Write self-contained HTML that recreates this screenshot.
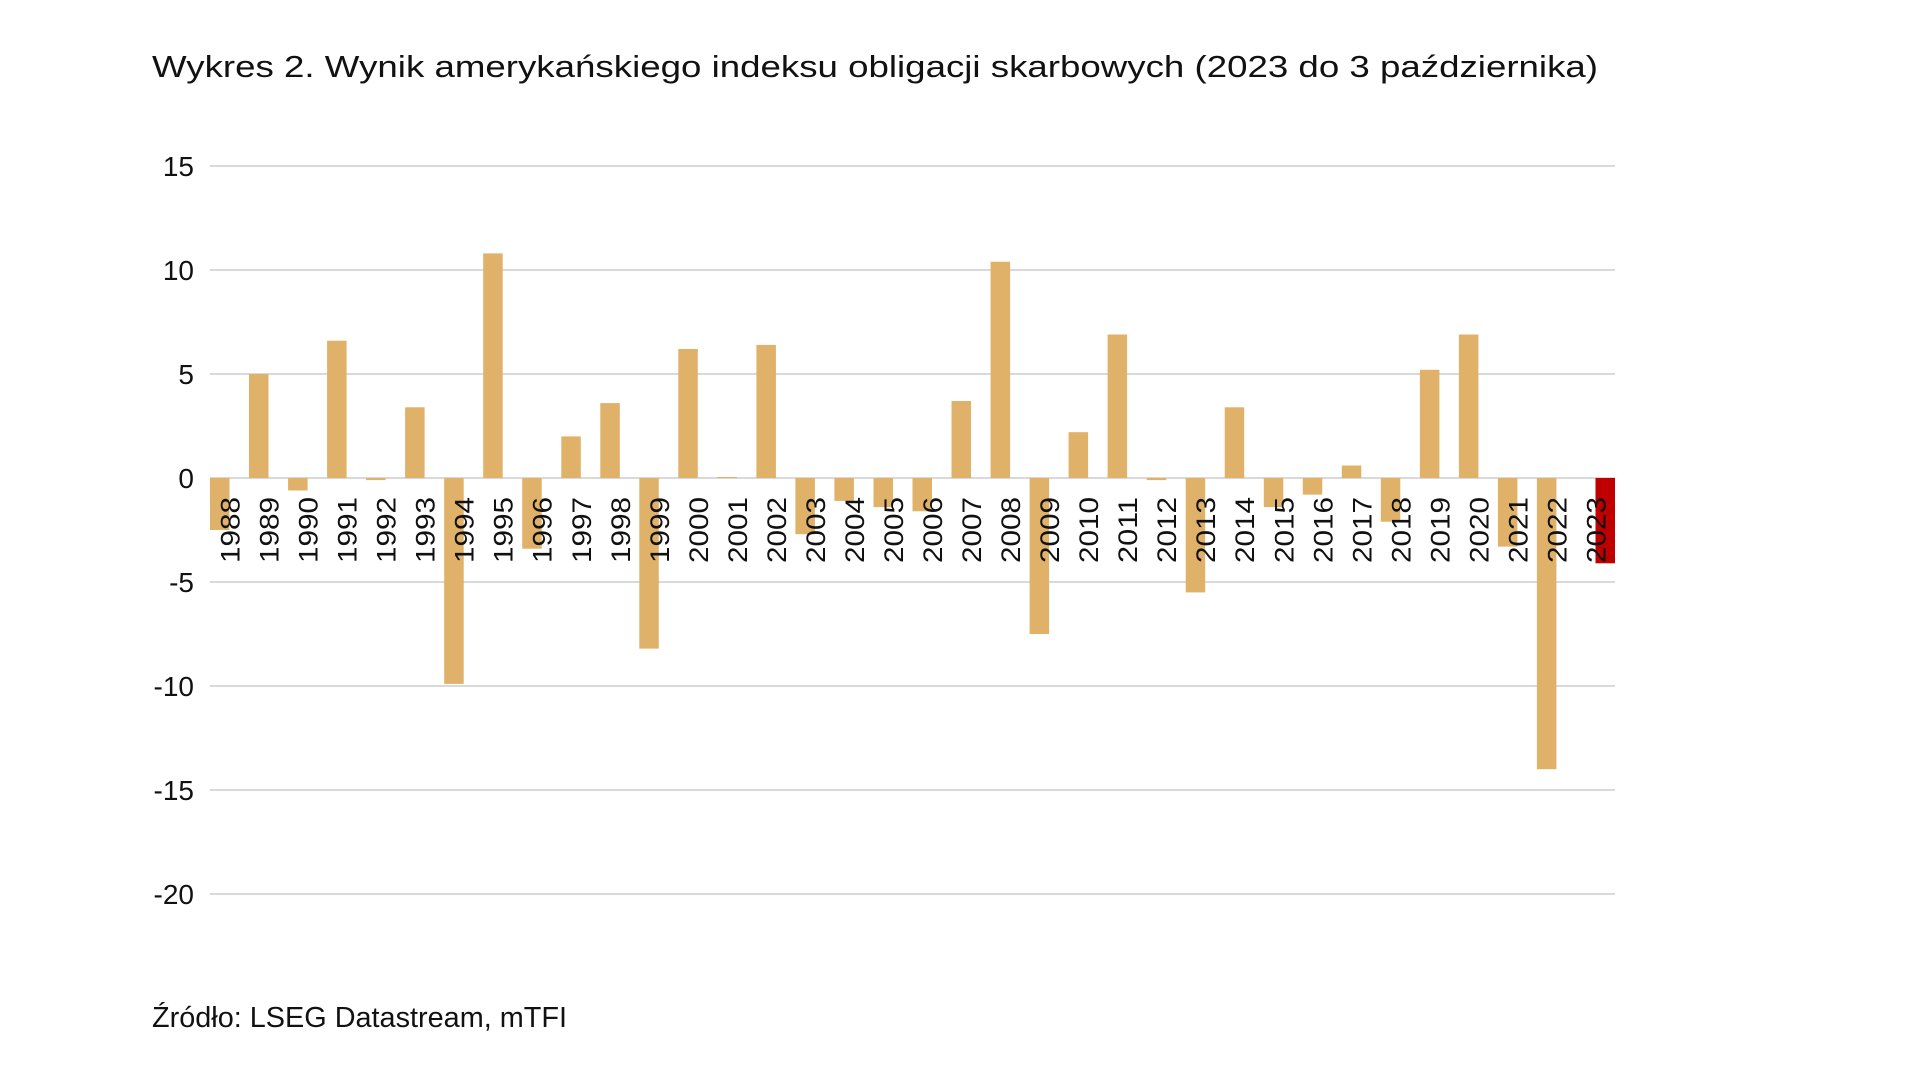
<!DOCTYPE html>
<html><head><meta charset="utf-8"><style>
html,body{margin:0;padding:0;background:#fff;}
svg{display:block;}
text{font-family:"Liberation Sans",sans-serif;fill:#111;}
</style></head><body>
<svg width="1920" height="1080" viewBox="0 0 1920 1080" xmlns="http://www.w3.org/2000/svg">
<text x="152" y="77" font-size="31" textLength="1446" lengthAdjust="spacingAndGlyphs">Wykres 2. Wynik amerykańskiego indeksu obligacji skarbowych (2023 do 3 października)</text>
<text x="152" y="1027" font-size="29" textLength="415" lengthAdjust="spacingAndGlyphs">Źródło: LSEG Datastream, mTFI</text>
<g id="chart"></g>
</svg>
<script>
const vals=[-2.5,5.0,-0.6,6.6,-0.1,3.4,-9.9,10.8,-3.4,2.0,3.6,-8.2,6.2,0.05,6.4,-2.7,-1.1,-1.4,-1.6,3.7,10.4,-7.5,2.2,6.9,-0.1,-5.5,3.4,-1.4,-0.8,0.6,-2.1,5.2,6.9,-3.3,-14.0,-4.1];
const g=document.getElementById('chart');const NS='http://www.w3.org/2000/svg';
const y0=478,u=20.8,L=210,R=1615,p=(R-L)/36;
let s='';
for(let v=15;v>=-20;v-=5){const y=y0-v*u;s+=`<line x1="${L}" x2="${R}" y1="${y}" y2="${y}" stroke="#d9d9d9" stroke-width="2"/>`;
s+=`<text x="194" y="${y+10}" font-size="28" text-anchor="end">${v}</text>`;}
vals.forEach((v,i)=>{const last=i==35;const x=L+i*p+(last?p/2:0);const y=v>=0?y0-v*u:y0;const h=Math.max(Math.abs(v)*u,1);
s+=`<rect x="${x.toFixed(1)}" y="${y.toFixed(1)}" width="${(p/2).toFixed(1)}" height="${h.toFixed(1)}" fill="${last?'#c00000':'#e0b168'}"/>`;});
vals.forEach((v,i)=>{const cx=L+i*p+p/2+10;
s+=`<text transform="translate(${cx.toFixed(1)},497) rotate(-90)" font-size="27" text-anchor="end" textLength="66" lengthAdjust="spacingAndGlyphs">${1988+i}</text>`;});
g.innerHTML=s;
</script>
</body></html>
